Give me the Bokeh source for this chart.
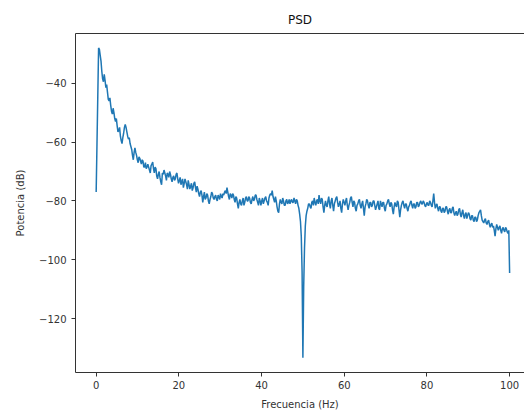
from bokeh.plotting import figure
from bokeh.models import Range1d, LinearAxis, FixedTicker, ColumnDataSource
from bokeh.embed import file_html
from bokeh.resources import INLINE

# PSD values (dB), 513 bins from 0 to 100 Hz
psd_db = [
    -77.0, -60.7, -44.4, -28.0, -28.5, -30.5, -32.5, -36.0, -38.5, -39.5, -37.0, -39.0, -41.5, -40.5, -43.0, -45.5,
    -46.0, -45.0, -47.5, -49.5, -50.5, -48.5, -50.0, -52.0, -53.0, -52.0, -54.5, -56.5, -56.0, -55.0, -58.0, -59.5,
    -60.5, -58.5, -57.0, -55.0, -54.0, -55.0, -56.5, -58.0, -59.0, -58.5, -60.5, -61.5, -62.5, -64.5, -66.0, -63.5,
    -62.0, -63.5, -64.5, -66.0, -67.0, -65.0, -65.5, -66.5, -67.5, -66.0, -66.5, -68.5, -68.5, -67.0, -69.0, -68.5,
    -67.5, -68.5, -69.5, -70.5, -68.0, -67.5, -66.8, -69.0, -70.5, -68.5, -69.0, -71.5, -72.5, -71.0, -70.0, -72.0,
    -73.5, -74.5, -70.5, -71.0, -69.5, -70.5, -71.5, -73.0, -70.5, -71.0, -72.0, -70.0, -71.0, -72.5, -73.5, -72.0,
    -71.5, -73.0, -72.5, -71.0, -70.5, -72.5, -74.0, -73.0, -72.0, -74.5, -73.5, -72.5, -75.5, -74.0, -72.5, -73.5,
    -74.5, -76.0, -73.0, -74.5, -76.0, -75.0, -74.0, -76.5, -75.5, -74.0, -73.5, -75.5, -77.0, -75.0, -76.0, -77.5,
    -78.5, -77.0, -76.5, -78.0, -80.5, -78.5, -77.0, -79.5, -79.0, -77.5, -78.0, -80.0, -81.0, -79.5, -78.5, -77.0,
    -77.5, -79.0, -79.5, -78.5, -78.0, -79.5, -80.0, -78.0, -78.5, -79.5, -77.5, -78.5, -79.0, -77.5, -78.0, -77.0,
    -76.5, -77.5, -75.5, -77.0, -78.5, -79.5, -77.5, -78.0, -79.0, -77.5, -78.0, -79.5, -80.5, -78.5, -79.0, -81.0,
    -82.5, -80.5, -79.5, -81.0, -81.5, -80.0, -79.0, -81.5, -80.5, -79.0, -78.5, -80.0, -80.0, -78.5, -79.0, -80.5,
    -81.0, -79.5, -78.5, -80.0, -79.5, -78.0, -78.0, -79.5, -80.5, -81.5, -79.0, -80.0, -81.5, -80.0, -79.0, -81.0,
    -80.0, -79.0, -78.5, -80.0, -80.5, -81.5, -79.0, -78.0, -77.5, -78.0, -76.5, -78.5, -79.5, -80.5, -78.5, -80.0,
    -82.0, -83.5, -84.0, -81.0, -79.5, -80.5, -81.0, -79.0, -80.0, -81.5, -81.5, -80.0, -79.5, -81.0, -80.5, -79.5,
    -81.0, -80.0, -79.5, -80.5, -80.5, -79.0, -80.0, -81.0, -79.5, -80.0, -81.5, -82.5, -84.5, -87.0, -92.0, -104.0,
    -133.3, -109.0, -96.0, -88.5, -85.0, -83.5, -82.5, -81.0, -81.0, -82.0, -82.5, -80.5, -80.0, -81.5, -79.0, -80.5,
    -81.5, -80.0, -79.5, -81.0, -78.0, -80.0, -81.0, -79.0, -79.5, -82.0, -84.0, -81.5, -80.0, -81.5, -82.0, -80.0,
    -78.5, -81.0, -82.5, -80.0, -79.0, -81.5, -83.5, -81.0, -80.0, -79.0, -78.5, -80.5, -82.0, -81.0, -80.0, -82.5,
    -84.0, -81.0, -79.5, -80.5, -81.5, -80.0, -79.0, -81.5, -83.0, -81.5, -80.5, -79.0, -78.5, -80.5, -82.0, -80.0,
    -80.5, -82.5, -83.5, -81.5, -81.0, -80.0, -79.5, -81.5, -82.5, -81.0, -80.0, -82.5, -85.0, -82.0, -81.0, -79.5,
    -80.0, -81.5, -82.5, -80.5, -80.5, -82.0, -81.5, -80.0, -80.0, -81.5, -83.0, -82.0, -81.0, -80.0, -82.5, -83.0,
    -80.0, -81.0, -82.0, -80.5, -80.5, -82.5, -83.5, -81.5, -81.0, -80.0, -79.5, -81.0, -82.0, -80.5, -81.0, -83.0,
    -84.5, -82.0, -80.5, -81.5, -82.0, -80.0, -80.5, -83.0, -85.5, -83.0, -81.5, -80.5, -80.0, -81.5, -82.5, -81.0,
    -81.0, -82.5, -83.5, -82.0, -81.5, -80.5, -80.0, -81.5, -82.5, -81.0, -81.0, -82.5, -82.0, -80.5, -80.5, -82.0,
    -81.5, -80.5, -80.0, -81.0, -81.0, -80.0, -80.5, -81.5, -82.0, -81.0, -80.5, -81.5, -81.5, -80.0, -80.5, -81.5,
    -82.0, -80.0, -77.5, -80.5, -82.5, -81.5, -81.0, -82.5, -83.5, -82.0, -82.0, -83.5, -84.0, -82.5, -82.5, -84.0,
    -83.5, -82.0, -82.0, -83.5, -84.5, -83.0, -82.5, -84.0, -84.0, -82.5, -82.0, -84.0, -85.0, -84.0, -83.5, -85.0,
    -84.5, -83.0, -82.5, -84.5, -85.5, -84.0, -83.0, -85.0, -86.0, -84.5, -84.0, -86.0, -85.0, -84.0, -84.5, -86.0,
    -86.5, -85.0, -85.0, -86.5, -87.0, -85.5, -85.5, -87.0, -86.5, -85.0, -84.0, -83.5, -83.0, -85.0, -86.5, -87.0,
    -87.5, -86.5, -86.0, -87.5, -88.0, -87.0, -86.5, -88.0, -89.0, -88.0, -87.5, -89.0, -88.5, -90.0, -92.0, -89.5,
    -88.0, -89.0, -90.0, -89.0, -88.5, -90.0, -91.0, -89.5, -89.0, -90.0, -90.5, -89.0, -89.5, -90.5, -91.0, -90.0,
    -104.5,
]
f_max = 100.0
freqs = [i * f_max / (len(psd_db) - 1) for i in range(len(psd_db))]

x_ticks = [0, 20, 40, 60, 80, 100]
y_ticks = [-120, -100, -80, -60, -40]
y_tick_labels = {t: "\u2212" + str(abs(t)) for t in y_ticks}

title_text = "PSD"
x_label = "Frecuencia (Hz)"
y_label = "Potencia (dB)"

FONT = "DejaVu Sans"
AX_COLOR = "#333333"

p = figure(width=524, height=412, output_backend="svg", toolbar_location=None,
           x_range=Range1d(-5, 103.6), y_range=Range1d(-138.3, -23.1),
           x_axis_location=None, y_axis_location=None,
           min_border_left=75, min_border_right=0, min_border_top=33, min_border_bottom=39)
p.grid.visible = False
p.outline_line_color = None
p.background_fill_color = "white"
p.border_fill_color = "white"

p.title.text = title_text
p.title.align = "center"
p.title.text_font = FONT
p.title.text_font_size = "12px"
p.title.text_font_style = "normal"
p.title.text_color = "#111111"
p.title.standoff = 14
p.title.offset = 3

src = ColumnDataSource(dict(f=freqs, p=psd_db))
p.line("f", "p", source=src, line_color="#1f77b4", line_width=1.5)

def style_axis(ax):
    ax.axis_line_color = AX_COLOR
    ax.axis_line_width = 1
    ax.major_tick_line_color = AX_COLOR
    ax.major_tick_out = 4
    ax.major_tick_in = 0
    ax.minor_tick_line_color = None
    ax.major_label_text_font = FONT
    ax.major_label_text_font_size = "10px"
    ax.major_label_text_color = "#333333"
    ax.axis_label_text_font = FONT
    ax.axis_label_text_font_size = "10px"
    ax.axis_label_text_font_style = "normal"
    ax.axis_label_text_color = "#333333"

xaxis = LinearAxis(ticker=FixedTicker(ticks=x_ticks), axis_label=x_label)
style_axis(xaxis)
xaxis.major_label_standoff = 4
xaxis.axis_label_standoff = 7
p.add_layout(xaxis, "below")

yaxis = LinearAxis(ticker=FixedTicker(ticks=y_ticks), axis_label=y_label,
                   major_label_overrides=y_tick_labels)
style_axis(yaxis)
yaxis.major_label_standoff = 5
yaxis.axis_label_standoff = 10
p.add_layout(yaxis, "left")

top_axis = LinearAxis(ticker=FixedTicker(ticks=[]))
top_axis.axis_line_color = AX_COLOR
top_axis.major_tick_line_color = None
top_axis.minor_tick_line_color = None
top_axis.major_label_text_font_size = "0px"
p.add_layout(top_axis, "above")

open("out.html", "w").write(file_html(p, INLINE))
